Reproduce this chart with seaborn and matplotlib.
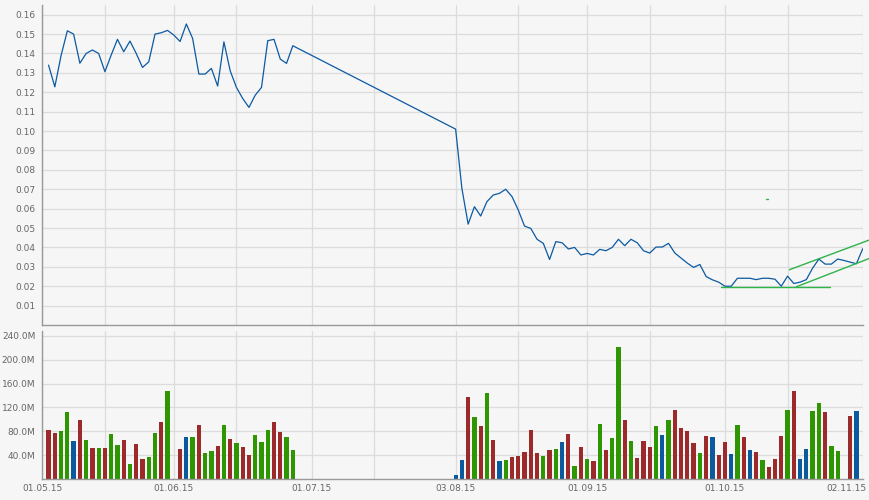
import numpy as np
import pandas as pd
import seaborn as sns
import matplotlib.pyplot as plt
from matplotlib.transforms import ScaledTranslation

# axis runs over weekdays 01.05.15 .. 02.11.15
first_day = "2015-05-01"
last_day = "2015-11-02"

# closing price, 04.05.15 - 26.06.15
start_may_jun = "2015-05-04"
price_may_jun = [
    0.134, 0.1228, 0.139, 0.1517, 0.150, 0.135, 0.140, 0.1418, 0.140, 0.1306,
    0.1392, 0.1473, 0.1409, 0.1464, 0.140, 0.1328, 0.1357, 0.150, 0.1507, 0.1519,
    0.1495, 0.1462, 0.1552, 0.1478, 0.1294, 0.1294, 0.1323, 0.1232, 0.146, 0.1311,
    0.1225, 0.1168, 0.1122, 0.1185, 0.1225, 0.1466, 0.1473, 0.1371, 0.1349, 0.144,
]
# closing price, 03.08.15 - 02.11.15
start_aug_nov = "2015-08-03"
price_aug_nov = [
    0.101, 0.0704, 0.052, 0.061, 0.0562, 0.0636, 0.067, 0.0679, 0.070, 0.0662,
    0.0593, 0.051, 0.0498, 0.0442, 0.0421, 0.0338, 0.043, 0.0424, 0.0392, 0.040,
    0.0361, 0.0369, 0.0361, 0.039, 0.0383, 0.040, 0.0442, 0.0409, 0.0442, 0.0424,
    0.0383, 0.0371, 0.0402, 0.0402, 0.0421, 0.0371, 0.0345, 0.0319, 0.0297, 0.0312,
    0.025, 0.0233, 0.0221, 0.020, 0.020, 0.0241, 0.0241, 0.0241, 0.0234, 0.0241,
    0.0241, 0.0236, 0.020, 0.0252, 0.0214, 0.0221, 0.0234, 0.0293, 0.034, 0.0314,
    0.0314, 0.034, 0.0333, 0.0324, 0.0316, 0.0393,
]

# volume in millions (None = no bar), same days as the prices
volume_may_jun = [
    82.8, 77.2, 80.6, 113, 63.8, 99.6, 66, 52.6, 52.6, 52.6,
    75.5, 57, 66, 25.2, 59.3, 34.1, 37.5, 77.2, 96.2, 147.7,
    None, 50.9, 70.5, 70.5, 90.6, 43.6, 47.5, 55.9, 90.6, 67.7,
    61, 54.3, 40.8, 73.8, 62.7, 82.8, 96.2, 78.9, 70.5, 49.2,
]
volume_aug_nov = [
    6.7, 31.9, 138.2, 104.6, 88.9, 144.9, 66, 30.2, 31.9, 36.9,
    38.6, 45.3, 82.8, 43.6, 38.6, 48.7, 50.3, 62.1, 75.5, 21.8,
    53.7, 33.6, 30.2, 92.3, 48.7, 68.8, 221.5, 99.6, 63.8, 35.2,
    63.8, 53.7, 88.9, 73.8, 99.6, 115.8, 85.6, 80.6, 60.4, 43.6,
    72.2, 70.5, 40.3, 62.1, 42, 90.6, 70.5, 48.7, 45.3, 31.9,
    20.1, 33.6, 72.2, 115.8, 147.7, 33.6, 50.3, 114.1, 127.5, 112.4,
    55.4, 47, None, 105.7, 114.1, None,
]
# d = down day, u = up day, f = unchanged, "-" = no bar
direction_may_jun = [
    "d", "d", "u", "u", "f", "d", "u", "d", "u", "d",
    "u", "u", "d", "u", "d", "d", "u", "u", "d", "u",
    "-", "d", "f", "u", "d", "u", "u", "d", "u", "d",
    "u", "d", "d", "u", "u", "u", "d", "d", "u", "u",
]
direction_aug_nov = [
    "f", "f", "d", "u", "d", "u", "d", "f", "u", "d",
    "d", "d", "d", "d", "u", "d", "u", "f", "d", "u",
    "d", "u", "d", "u", "d", "u", "u", "d", "u", "d",
    "d", "d", "u", "f", "u", "d", "d", "d", "d", "u",
    "d", "f", "d", "d", "f", "u", "d", "f", "d", "u",
    "d", "d", "d", "u", "d", "f", "f", "u", "u", "d",
    "u", "u", "-", "d", "f", "-",
]

# drawn trend lines, (trading-day index, price)
trend_lines = [
    ((108.4, 0.0196), (125.8, 0.0196)),
    ((119.3, 0.0285), (132.2, 0.0440)),
    ((120.4, 0.0197), (132.2, 0.0345)),
    ((115.6, 0.0651), (115.9, 0.0651)),
]

bar_colors = {"d": "#9c2a2a", "u": "#2e9600", "f": "#0c5a9e"}
line_color = "#0b5aa2"
trend_color = "#2db34a"
bg = "#f6f6f6"
grid_c = "#dcdcdc"
spine_c = "#999999"
label_c = "#666666"

days = pd.bdate_range(first_day, last_day)
i1 = days.get_loc(pd.Timestamp(start_may_jun))
i2 = days.get_loc(pd.Timestamp(start_aug_nov))
pos1 = np.arange(i1, i1 + len(price_may_jun))
pos2 = np.arange(i2, i2 + len(price_aug_nov))

price_df = pd.DataFrame({
    "pos": np.concatenate([pos1, pos2]),
    "price": price_may_jun + price_aug_nov,
})

vol_df = pd.DataFrame({
    "pos": np.concatenate([pos1, pos2]),
    "volume": [np.nan if v is None else v * 1e6 for v in volume_may_jun + volume_aug_nov],
    "dir": direction_may_jun + direction_aug_nov,
})
vol_df = vol_df[vol_df["dir"] != "-"].dropna()

# month starts and mid-month lines
s = days.to_series()
major = [days.get_loc(d) for d in s.groupby(days.to_period("M")).first()]
mid = s[s.dt.day >= 15]
minor = [days.get_loc(d) for d in mid.groupby(mid.index.to_period("M")).first()]
labels = [days[i].strftime("%d.%m.%y") for i in major]

sns.set_style("white")
plt.rcParams["font.family"] = ["DejaVu Sans"]

fig = plt.figure(figsize=(8.7, 5), dpi=100, facecolor=bg)
W, H = 870, 500
x0, x1 = 42.3, 862.7
ax_p = fig.add_axes([x0 / W, (H - 325) / H, (x1 - x0) / W, (325 - 5) / H], facecolor=bg)
ax_v = fig.add_axes([x0 / W, (H - 479) / H, (x1 - x0) / W, (479 - 331) / H], facecolor=bg)

sns.lineplot(data=price_df, x="pos", y="price", ax=ax_p, color=line_color,
             linewidth=0.9, estimator=None, sort=False)
for (xa, ya), (xb, yb) in trend_lines:
    ax_p.plot([xa, xb], [ya, yb], color=trend_color, lw=1.0, clip_on=False, zorder=4)

sns.barplot(data=vol_df, x="pos", y="volume", hue="dir", palette=bar_colors,
            native_scale=True, width=0.68, dodge=False, legend=False,
            saturation=1, errorbar=None, edgecolor="none", ax=ax_v)

for ax in (ax_p, ax_v):
    ax.set_xlim(0, len(days) - 1)
    ax.set_xlabel("")
    ax.set_ylabel("")
    ax.set_xticks(major)
    ax.set_xticks(minor, minor=True)
    ax.grid(True, which="both", axis="x", color=grid_c, lw=0.9)
    ax.grid(True, which="major", axis="y", color=grid_c, lw=0.9)
    ax.set_axisbelow(True)
    for side in ("top", "right"):
        ax.spines[side].set_visible(False)
    for side in ("left", "bottom"):
        ax.spines[side].set_color(spine_c)
        ax.spines[side].set_linewidth(1.0)
    ax.tick_params(axis="y", length=3, width=0.8, color=spine_c,
                   labelsize=6.5, labelcolor=label_c, pad=2)
    ax.tick_params(axis="x", which="minor", length=0)

ax_p.set_ylim(0, 0.165)
ax_p.set_yticks(np.arange(1, 17) * 0.01)
ax_p.set_yticklabels([f"{v:.2f}" for v in np.arange(1, 17) * 0.01])
ax_p.tick_params(axis="x", length=0, labelbottom=False)

ax_v.set_ylim(0, 248e6)
vt = np.arange(1, 7) * 40e6
ax_v.set_yticks(vt)
ax_v.set_yticklabels([f"{v / 1e6:.1f}M" for v in vt])
ax_v.set_xticklabels(labels)
ax_v.tick_params(axis="x", which="major", length=2, width=0.8, color=spine_c,
                 labelsize=6.5, labelcolor=label_c, pad=1.5)
last = ax_v.get_xticklabels()[-1]
last.set_ha("right")
last.set_transform(last.get_transform() + ScaledTranslation(4 / 100, 0, fig.dpi_scale_trans))

fig.savefig("out.png", dpi=100, facecolor=bg)
